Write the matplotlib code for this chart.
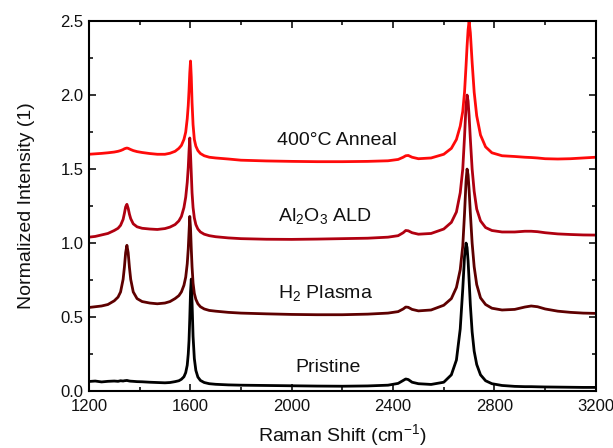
import matplotlib
matplotlib.use("Agg")
import matplotlib.pyplot as plt
from matplotlib.ticker import MultipleLocator, FormatStrFormatter

plt.rcParams['font.family'] = ['Liberation Sans', 'DejaVu Sans']
plt.rcParams['mathtext.fontset'] = 'custom'
plt.rcParams['mathtext.rm'] = 'Liberation Sans'

# Raman shift grid (cm^-1)
shift = [1200, 1225, 1250, 1275, 1300, 1315, 1325, 1335, 1340, 1345,
         1350, 1355, 1360, 1365, 1375, 1390, 1410, 1440, 1470, 1500,
         1520, 1540, 1555, 1565, 1575, 1582, 1588, 1592, 1595, 1598,
         1601, 1604, 1607, 1611, 1616, 1622, 1630, 1640, 1655, 1675,
         1700, 1750, 1800, 1900, 2000, 2100, 2200, 2300, 2380, 2420,
         2440, 2450, 2460, 2475, 2500, 2550, 2600, 2630, 2650, 2665,
         2675, 2682, 2688, 2692, 2696, 2700, 2705, 2712, 2720, 2730,
         2745, 2765, 2790, 2830, 2880, 2920, 2945, 2970, 3000, 3050,
         3100, 3150, 3200]

pristine = [0.065, 0.068, 0.062, 0.066, 0.068, 0.066, 0.070, 0.068, 0.070, 0.071,
            0.072, 0.070, 0.068, 0.067, 0.066, 0.064, 0.063, 0.060, 0.058, 0.056,
            0.058, 0.064, 0.070, 0.080, 0.097, 0.125, 0.175, 0.25, 0.34, 0.49,
            0.67, 0.757, 0.60, 0.37, 0.22, 0.14, 0.095, 0.072, 0.058, 0.050,
            0.046, 0.042, 0.040, 0.038, 0.036, 0.034, 0.033, 0.035, 0.040, 0.052,
            0.072, 0.082, 0.078, 0.060, 0.050, 0.045, 0.060, 0.11, 0.21, 0.42,
            0.69, 0.91, 1.0, 0.97, 0.88, 0.75, 0.58, 0.40, 0.27, 0.18,
            0.11, 0.07, 0.05, 0.038, 0.032, 0.030, 0.030, 0.029, 0.028, 0.027,
            0.026, 0.025, 0.025]

h2_plasma = [0.565, 0.570, 0.575, 0.585, 0.61, 0.635, 0.67, 0.755, 0.835, 0.935,
             0.985, 0.935, 0.835, 0.755, 0.67, 0.625, 0.605, 0.595, 0.59, 0.595,
             0.605, 0.625, 0.645, 0.67, 0.715, 0.77, 0.86, 0.96, 1.07, 1.18,
             1.10, 0.96, 0.84, 0.73, 0.66, 0.62, 0.59, 0.57, 0.555, 0.545,
             0.54, 0.532, 0.527, 0.522, 0.518, 0.516, 0.516, 0.52, 0.527, 0.537,
             0.555, 0.568, 0.566, 0.552, 0.542, 0.548, 0.58, 0.625, 0.70, 0.82,
             0.98, 1.20, 1.42, 1.50, 1.46, 1.36, 1.20, 1.00, 0.84, 0.72,
             0.63, 0.585, 0.56, 0.548, 0.552, 0.568, 0.575, 0.57, 0.555, 0.54,
             0.532, 0.527, 0.525]

al2o3_ald = [1.04, 1.045, 1.055, 1.065, 1.085, 1.10, 1.12, 1.16, 1.20, 1.245,
             1.262, 1.235, 1.195, 1.165, 1.13, 1.11, 1.10, 1.095, 1.092, 1.098,
             1.108, 1.125, 1.15, 1.18, 1.24, 1.31, 1.41, 1.51, 1.62, 1.71,
             1.60, 1.47, 1.34, 1.24, 1.17, 1.125, 1.095, 1.075, 1.06, 1.05,
             1.043, 1.035, 1.03, 1.026, 1.025, 1.027, 1.03, 1.033, 1.04, 1.05,
             1.07, 1.085, 1.083, 1.07, 1.06, 1.065, 1.095, 1.14, 1.21, 1.34,
             1.50, 1.72, 1.93, 2.0, 1.96, 1.86, 1.70, 1.50, 1.35, 1.23,
             1.15, 1.105, 1.085, 1.075, 1.075, 1.08, 1.08, 1.077, 1.07, 1.062,
             1.058, 1.055, 1.054]

anneal_400 = [1.60, 1.603, 1.606, 1.61, 1.615, 1.62, 1.625, 1.632, 1.637, 1.64,
              1.642, 1.64, 1.636, 1.632, 1.625, 1.618, 1.612, 1.605, 1.60, 1.60,
              1.607, 1.62, 1.64, 1.66, 1.70, 1.75, 1.84, 1.93, 2.03, 2.15,
              2.23, 2.12, 1.95, 1.80, 1.70, 1.655, 1.625, 1.605, 1.59, 1.58,
              1.575, 1.568, 1.56, 1.555, 1.552, 1.55, 1.55, 1.552, 1.556, 1.565,
              1.58, 1.59, 1.592, 1.58, 1.57, 1.575, 1.60, 1.64, 1.70, 1.79,
              1.89, 2.02, 2.20, 2.33, 2.44, 2.50, 2.42, 2.22, 2.02, 1.86,
              1.73, 1.65, 1.61, 1.59, 1.585, 1.58, 1.578, 1.575, 1.57, 1.568,
              1.57, 1.575, 1.58]

series = [pristine, h2_plasma, al2o3_ald, anneal_400]
colors = ['#000000', '#5e0000', '#b00010', '#ff0a0a']
labels = ['Pristine', 'H$_2$ Plasma', 'Al$_2$O$_3$ ALD', '400\u00b0C Anneal']
label_x = [2015, 1945, 1945, 1942]
label_y = [0.16, 0.66, 1.18, 1.69]

fig = plt.figure(figsize=(6.13, 4.48), dpi=100)
ax = fig.add_axes([0.145, 0.127, 0.827, 0.826])

for ys, c in zip(series, colors):
    ax.plot(shift, ys, color=c, lw=2.0, solid_joinstyle='round')

for lab, xx, yy in zip(labels, label_x, label_y):
    ax.text(xx, yy, lab, ha='left', va='center', fontsize=14, color='#111111')

ax.set_xlim(1200, 3200)
ax.set_ylim(0, 2.5)
ax.xaxis.set_major_locator(MultipleLocator(400))
ax.xaxis.set_minor_locator(MultipleLocator(200))
ax.yaxis.set_major_locator(MultipleLocator(0.5))
ax.yaxis.set_minor_locator(MultipleLocator(0.25))
ax.yaxis.set_major_formatter(FormatStrFormatter('%.1f'))
ax.tick_params(which='both', direction='in', top=True, right=True, width=1.2,
               labelsize=12, colors='#111111')
ax.tick_params(which='major', length=5)
ax.tick_params(which='minor', length=3)
ax.tick_params(axis='x', pad=6)
ax.tick_params(axis='y', pad=4)
for s in ax.spines.values():
    s.set_linewidth(1.5)

ax.set_xlabel('Raman Shift (cm$^{-1}$)', fontsize=14, color='#111111', labelpad=6)
ax.set_ylabel('Normalized Intensity (1)', fontsize=14, color='#111111', labelpad=18)

fig.savefig('out.png', dpi=100)
